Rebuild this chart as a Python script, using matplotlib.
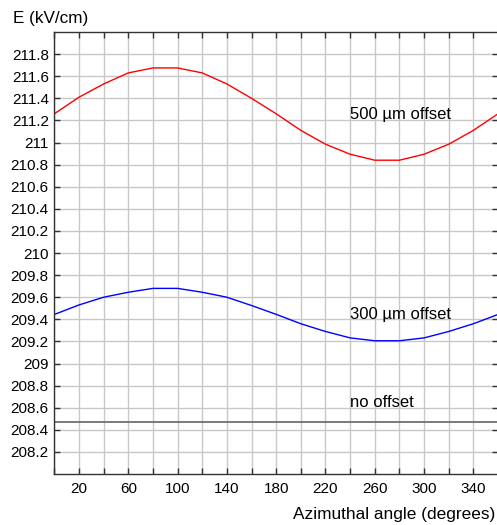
import numpy as np
import matplotlib.pyplot as plt
from matplotlib.ticker import FixedLocator

plt.rcParams['font.family'] = ['Liberation Sans', 'DejaVu Sans']

angles = np.arange(0, 361, 20)
field_500um = [211.26, 211.41, 211.53, 211.63, 211.675, 211.675, 211.63, 211.53, 211.40,
               211.26, 211.11, 210.985, 210.894, 210.84, 210.84, 210.894, 210.985, 211.11, 211.26]
field_300um = [209.444, 209.53, 209.60, 209.645, 209.68, 209.68, 209.645, 209.60, 209.525,
               209.445, 209.36, 209.29, 209.232, 209.206, 209.206, 209.232, 209.29, 209.36, 209.444]
field_no_offset = [208.468] * len(angles)

labelled_x_ticks = [20, 60, 100, 140, 180, 220, 260, 300, 340]
y_ticks = np.round(np.arange(208.2, 211.81, 0.2), 1)

fig = plt.figure(figsize=(4.97, 5.25), dpi=100)
ax = fig.add_axes([0.1093, 0.0971, 0.8928, 0.8419])

ax.plot(angles, field_500um, color='#ff0000', lw=1.0)
ax.plot(angles, field_300um, color='#0000ff', lw=1.0)
ax.plot(angles, field_no_offset, color='#707070', lw=1.3)

ax.set_xlim(0, 360)
ax.set_ylim(208, 212)
ax.xaxis.set_major_locator(FixedLocator(labelled_x_ticks))
ax.xaxis.set_minor_locator(FixedLocator([a for a in range(0, 361, 20) if a not in labelled_x_ticks]))
ax.set_xticklabels([str(v) for v in labelled_x_ticks])
ax.yaxis.set_major_locator(FixedLocator(y_ticks))
ax.set_yticklabels([('%g' % v) for v in y_ticks])

ax.grid(True, which='both', color='#c8c8c8', lw=1.0)
ax.set_axisbelow(True)
ax.tick_params(which='both', direction='in', length=4, width=1, color='#333333',
               top=True, right=True, labelsize=11, pad=4)
ax.tick_params(axis='x', pad=6)
for side in ax.spines.values():
    side.set_color('#333333')
    side.set_linewidth(1.0)

ax.text(240, 211.25, u'500 \u00b5m offset', fontsize=12, va='center', ha='left')
ax.text(240, 209.44, u'300 \u00b5m offset', fontsize=12, va='center', ha='left')
ax.text(240, 208.65, 'no offset', fontsize=12, va='center', ha='left')

fig.text(13 / 497, 1 - 18 / 525, 'E (kV/cm)', fontsize=12.3, va='center', ha='left')
fig.text(495 / 497, 1 - 515 / 525, 'Azimuthal angle (degrees)', fontsize=12.4,
         va='center', ha='right')

fig.savefig('out.png', dpi=100)
